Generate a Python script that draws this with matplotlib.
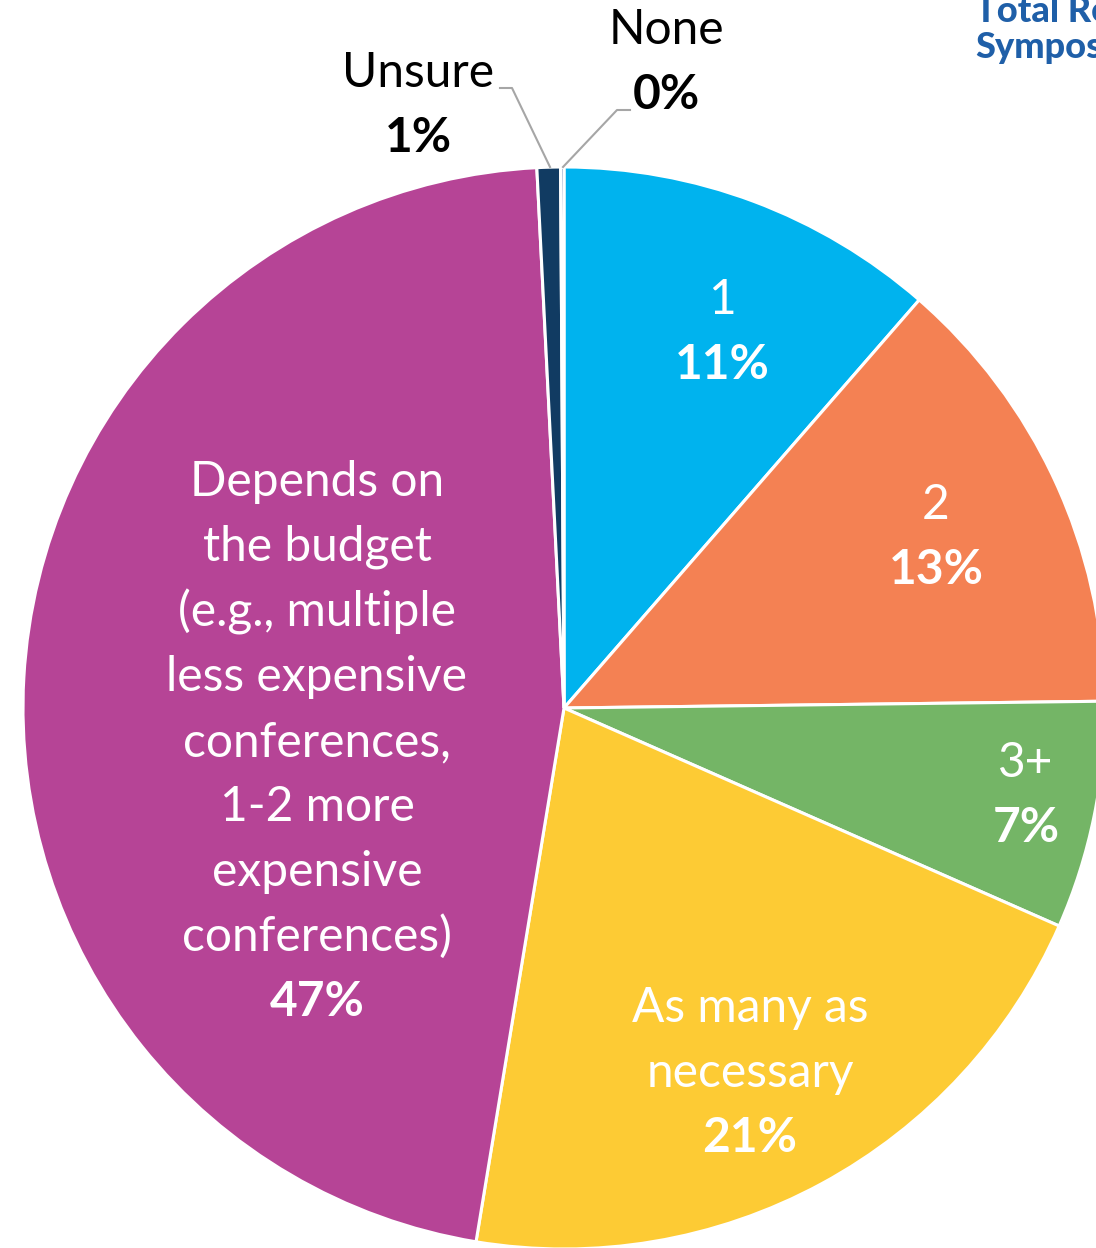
import matplotlib
matplotlib.use("Agg")
import matplotlib.pyplot as plt

# ---- data ----
categories = ["1", "2", "3+", "As many as\nnecessary",
              "Depends on\nthe budget\n(e.g., multiple\nless expensive\nconferences,\n1-2 more\nexpensive\nconferences)",
              "Unsure", "None"]
values = [11.4, 13.4, 6.8, 21.0, 46.6, 0.7, 0.1]
colors = ["#00B3EE", "#F48153", "#74B566", "#FDCB34", "#B64496", "#113B62", "#2E5597"]

# label layout (pixel coords, top line center)
label_pos = [(722, 300), (936, 505), (1026, 763), (750, 1008), (317, 482), (418, 73), (666, 30)]
label_color = ["white", "white", "white", "white", "white", "black", "black"]
line_step = 65

W, H = 1096, 1248
fig = plt.figure(figsize=(W / 100, H / 100), dpi=100)
ax = fig.add_axes([0, 0, 1, 1])

cx, cy, r = 564, 708, 541
# pie drawn in a flipped-y axis: counterclock=True in data becomes clockwise visually
wedges, _ = ax.pie(values, colors=colors, startangle=-90, counterclock=True,
                   radius=r, center=(cx, cy), frame=True,
                   wedgeprops=dict(edgecolor="white", linewidth=2.2))
ax.set_xlim(0, W)
ax.set_ylim(H, 0)
ax.set_aspect("equal")
ax.axis("off")

font = "Lato"
fs = 34.5
for cat, v, (x, y), c in zip(categories, values, label_pos, label_color):
    lines = cat.split("\n")
    for i, ln in enumerate(lines):
        ax.text(x, y + i * line_step, ln, ha="center", va="center", color=c,
                fontsize=fs, family=font)
    ax.text(x, y + len(lines) * line_step, f"{round(v)}%", ha="center", va="center",
            color=c, fontsize=fs, family=font, fontweight="bold")

# leader lines
ax.plot([550, 512, 500], [167, 88, 88], color="#A6A6A6", lw=1.5)
ax.plot([563, 617, 630], [167, 110, 110], color="#A6A6A6", lw=1.5)

# logo fragment (cut by the right edge, as in the source)
ax.text(975, 11, "Total Rewards", ha="left", va="center", color="#1F5FA8",
        fontsize=26, family=font, fontweight="black")
ax.text(975, 47, "Symposium", ha="left", va="center", color="#1F5FA8",
        fontsize=26, family=font, fontweight="black")

fig.savefig("out.png", dpi=100)
